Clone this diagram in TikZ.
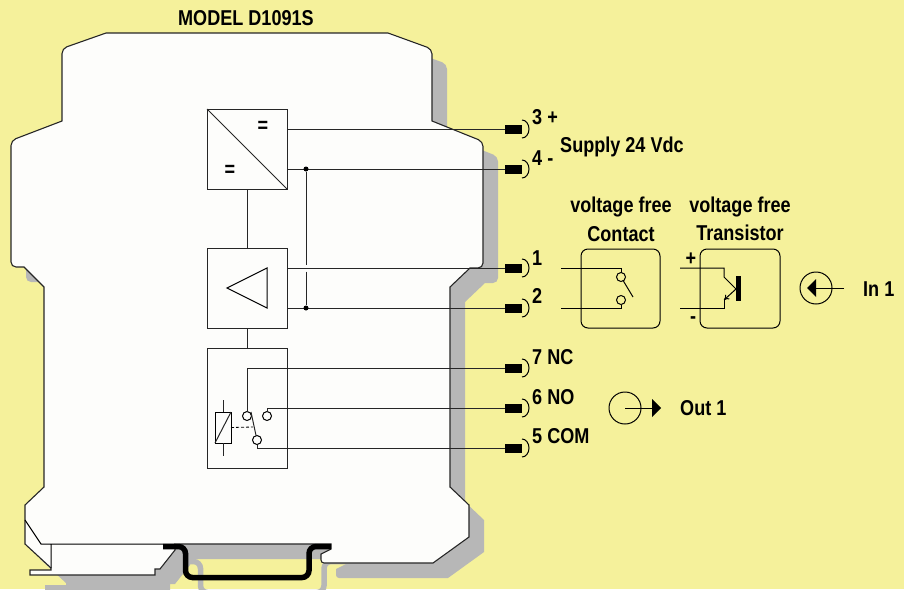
\documentclass[tikz,border=0pt]{standalone}
\usepackage{fontspec}
\usetikzlibrary{arrows.meta}
\setmainfont[FakeStretch=0.84]{Liberation Sans}
\definecolor{bgyellow}{HTML}{F5F19B}
\definecolor{shadowgray}{HTML}{B7B7B7}
\definecolor{bodywhite}{HTML}{FDFDFB}
\newcommand{\BodyOutline}{
  (106,33) -- (388,33) [rounded corners=5pt] -- (432,49) [sharp corners] -- (432,121)
  [rounded corners=5pt] -- (483,141.5) -- (483,268) [sharp corners] -- (470,268) -- (450,287) -- (450,487)
  -- (469,505) -- (469,537) -- (433,563) [rounded corners=3pt] -- (321,563) [sharp corners] -- (321,554) -- (331,549) -- (331,544)
  -- (175,544) -- (175,550) -- (160,569) -- (155,569) -- (155,575) -- (30,575) -- (30,570) -- (51,570) -- (51,568)
  -- (25,544) -- (25,505) -- (44,487) -- (44,287) -- (24,267) [rounded corners=5pt] -- (11,267) -- (11,140.5) [sharp corners] -- (62,121)
  [rounded corners=5pt] -- (62,48.5) [sharp corners] -- cycle}
\newcommand{\RailLine}{
  (163,546.5) [rounded corners=7pt] -- (185.5,546.5) -- (185.5,577.5) -- (309,577.5) -- (309,546.5) [sharp corners] -- (331,546.5)}
\begin{document}
\begin{tikzpicture}[
x=1pt,y=-1pt,
font=\fontsize{21.5}{24}\selectfont\bfseries,
wire/.style={line width=1pt,black!85},
blockbox/.style={draw,line width=1pt,black!85,fill=bodywhite,minimum width=80pt,inner sep=0pt,outer sep=0pt},
roundbox/.style={draw,line width=1pt,rounded corners=7pt,minimum width=79pt,minimum height=79pt,inner sep=0pt,outer sep=0pt},
terminal/.style={fill=black,minimum width=17pt,minimum height=9pt,inner sep=0pt,outer sep=0pt},
contact/.style={circle,draw,line width=1pt,fill=bodywhite,minimum size=9pt,inner sep=0pt,outer sep=0pt},
contactfree/.style={circle,draw,line width=1pt,minimum size=9pt,inner sep=0pt,outer sep=0pt},
junction/.style={circle,fill=black,minimum size=5pt,inner sep=0pt},
label/.style={anchor=west,inner sep=0pt}
]
\clip (0,0) rectangle (904,589);
\fill[bgyellow] (0,0) rectangle (904,589);
% shadow
\begin{scope}[shift={(15,15)}]
\fill[shadowgray] \BodyOutline;
\draw[shadowgray,line width=5.5pt] \RailLine;
\end{scope}
% housing
\draw[line width=1.1pt,black!85,fill=bodywhite] \BodyOutline;
\draw[line width=1pt] (25,520) -- (41,544) -- (175,544) (51,544) -- (51,568);
\draw[line width=5.5pt] \RailLine;
\node[anchor=west,inner sep=0pt] (model) at (178,18) {MODEL D1091S};
% blocks
\node[blockbox,minimum height=80pt] (conv) at (247,149) {};
\node[blockbox,minimum height=80pt] (amp) at (247,288) {};
\node[blockbox,minimum height=120pt] (relay) at (247,408) {};
\draw[wire] (conv.north west) -- (conv.south east);
\draw[wire] (conv.south) -- (amp.north);
\draw[wire] (amp.south) -- (relay.north);
\node[inner sep=0pt] (eqa) at (263,127) {=};
\node[inner sep=0pt] (eqb) at (230,171) {=};
\draw[line width=1pt] (227,288) -- (267,268) -- (267,308) -- cycle;
% terminals
\foreach \Name/\Y in {3/129,4/169,1/268,2/308,7/368,6/408,5/448}{
  \node[terminal] (t\Name) at (513.5,\Y) {};
  \draw[line width=1pt] ([yshift=9pt]t\Name.east) arc[start angle=90,end angle=-90,x radius=7pt,y radius=9pt];
}
\draw[wire] (conv.east |- t3) -- (t3);
\draw[wire] (conv.east |- t4) -- (t4);
\draw[wire] (amp.east |- t1) -- (t1);
\draw[wire] (amp.east |- t2) -- (t2);
\node[junction] (ja) at (306,169) {};
\node[junction] (jb) at (306,308) {};
\coordinate (gapa) at (306,264.5);
\coordinate (gapb) at (306,271.5);
\draw[wire] (ja) -- (gapa) (gapb) -- (jb);
% relay
\node[draw,line width=1pt,minimum width=16pt,minimum height=31pt,inner sep=0pt,outer sep=0pt] (coil) at (223,427.5) {};
\coordinate (coilup) at (223,400);
\coordinate (coildown) at (223,456);
\draw[wire] (coil.south west) -- (coil.north east);
\draw[wire] (coil.north) -- (coilup) (coil.south) -- (coildown);
\node[contact] (nc) at (247,416) {};
\node[contact] (no) at (267,416) {};
\node[contact] (com) at (257,440) {};
\coordinate (armtip) at (251,412);
\coordinate (armmid) at (253,427);
\draw[wire] (com) -- (armtip);
\draw[line width=.8pt,densely dashed] (coil.east) -- (armmid);
\draw[wire] (nc) -- (nc |- t7) -- (t7);
\draw[wire] (no) -- (no |- t6) -- (t6);
\draw[wire] (com) -- (com |- t5) -- (t5);
% terminal texts
\node[label] (l3) at (532,117) {3 +};
\node[label] (l4) at (532,158) {4 -};
\node[label] (supply) at (560,147) {Supply 24 Vdc};
\node[label] (l1) at (532,258) {1};
\node[label] (l2) at (532,296) {2};
\node[label] (l7) at (532,357) {7 NC};
\node[label] (l6) at (532,397) {6 NO};
\node[label] (l5) at (532,436) {5 COM};
% contact
\node[roundbox] (cbox) at (620.5,288.5) {};
\node[inner sep=0pt] (cfree) at (621,207) {voltage free};
\node[inner sep=0pt] (ctext) at (621,234) {Contact};
\coordinate (cina) at (561,268);
\coordinate (cinb) at (561,308);
\node[contactfree] (ca) at (621,277) {};
\node[contactfree] (cb) at (621,300) {};
\coordinate (carm) at (633,297);
\draw[line width=1pt] (cina) -- (cina -| ca) -- (ca);
\draw[line width=1pt] (cinb) -- (cinb -| cb) -- (cb);
\draw[line width=1pt] (ca) -- (carm);
% transistor
\node[roundbox,minimum width=80pt] (tbox) at (740,288.5) {};
\node[inner sep=0pt] (tfree) at (740,207) {voltage free};
\node[inner sep=0pt] (ttext) at (740,233) {Transistor};
\node[inner sep=0pt] (plus) at (691,259) {+};
\node[inner sep=0pt] (minus) at (693,320) {-};
\node[fill=black,minimum width=5pt,minimum height=25pt,inner sep=0pt,outer sep=0pt] (tbar) at (738.5,288.5) {};
\coordinate (tina) at (680,268);
\coordinate (tinb) at (680,308);
\coordinate (tka) at (724,268);
\coordinate (tkb) at (724,277);
\coordinate (tkc) at (736,289);
\coordinate (tkd) at (724,300);
\coordinate (tke) at (724,308);
\draw[line width=1pt] (tina) -- (tka) -- (tkb) -- (tkc);
\draw[line width=1pt] (tinb) -- (tke) -- (tkd);
\draw[line width=1pt,-{To[length=5pt,width=6pt]}] (tkc) -- (tkd);
% in and out
\node[circle,draw,line width=1pt,minimum size=32pt,inner sep=0pt,outer sep=0pt] (incirc) at (816,288) {};
\coordinate (inend) at (844,288);
\draw[line width=1pt] (inend) -- (incirc.center);
\fill[black] (807,288) -- (816,279) -- (816,297) -- cycle;
\node[label] (intext) at (863,289) {In 1};
\node[circle,draw,line width=1pt,minimum size=32pt,inner sep=0pt,outer sep=0pt] (outcirc) at (625,408) {};
\coordinate (outend) at (652,408);
\draw[line width=1pt] (outcirc.center) -- (outend);
\fill[black] (661,408) -- (652,399) -- (652,417) -- cycle;
\node[label] (outtext) at (680,408) {Out 1};
\end{tikzpicture}
\end{document}
